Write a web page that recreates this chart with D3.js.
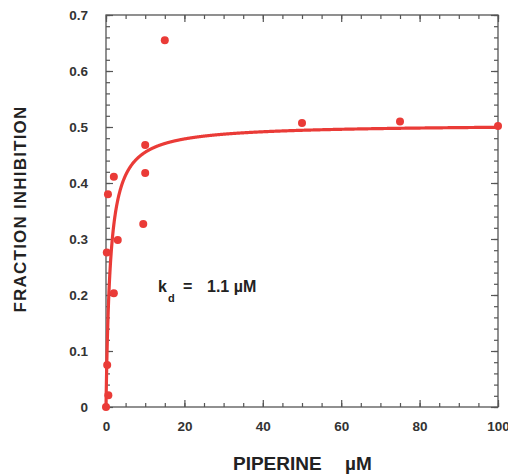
<!DOCTYPE html>
<html>
<head>
<meta charset="utf-8">
<script src="https://cdn.jsdelivr.net/npm/d3@7"></script>
<style>
  html, body { margin: 0; padding: 0; background: #fff; }
  svg { display: block; font-family: "Liberation Sans", Arial, Helvetica, sans-serif; }
</style>
</head>
<body>
<svg id="chart" width="508" height="474"></svg>
<script>
// Piperine concentration (µM) and measured fraction inhibition
const concentration = [0, 0.3, 0.6, 0.2, 0.5, 2, 3, 2, 10, 9.5, 10, 15, 50, 75, 100];
const inhibition    = [0, 0.075, 0.021, 0.276, 0.38, 0.411, 0.298, 0.203, 0.418, 0.327, 0.468, 0.655, 0.507, 0.51, 0.502];

// Saturation binding fit: f = fmax * x / (kd + x)
const kd = 1.1;
const fmax = 0.505;

const xTicks = [0, 20, 40, 60, 80, 100];
const yTicks = [0, 0.1, 0.2, 0.3, 0.4, 0.5, 0.6, 0.7];
const xMinorTicks = d3.range(0, 101, 5);
const yMinorTicks = d3.range(0, 0.701, 0.02);

const red = "#ea3b37";
const axisColor = "#555";

const svg = d3.select("#chart");
const plot = { left: 106, right: 498, top: 15, bottom: 407 };

const x = d3.scaleLinear().domain([0, 100]).range([plot.left, plot.right]);
const y = d3.scaleLinear().domain([0, 0.7]).range([plot.bottom, plot.top]);

// Frame
svg.append("rect")
  .attr("x", plot.left).attr("y", plot.top)
  .attr("width", plot.right - plot.left).attr("height", plot.bottom - plot.top)
  .attr("fill", "none").attr("stroke", axisColor).attr("stroke-width", 1.3);

// Inward ticks on all four sides
function drawTicks(g) {
  g.selectAll("path.domain").remove();
  g.selectAll("line").attr("stroke", axisColor).attr("stroke-width", 1.2);
}
const fmtY = d => d === 0 ? "0" : d3.format(".1f")(d);
const styleLabels = g => g.selectAll("text").attr("font-size", 13.5).attr("font-weight", "bold")
  .attr("fill", "#333").attr("font-family", "Liberation Sans, Arial, sans-serif");

// bottom axis
svg.append("g").attr("transform", `translate(0,${plot.bottom})`)
  .call(d3.axisBottom(x).tickValues(xMinorTicks).tickSize(-4).tickFormat(""))
  .call(drawTicks);
svg.append("g").attr("transform", `translate(0,${plot.bottom})`)
  .call(d3.axisBottom(x).tickValues(xTicks).tickSize(-7).tickPadding(14).tickFormat(d3.format("d")))
  .call(drawTicks)
  .call(styleLabels);
// top axis
svg.append("g").attr("transform", `translate(0,${plot.top})`)
  .call(d3.axisTop(x).tickValues(xMinorTicks).tickSize(-4).tickFormat(""))
  .call(drawTicks);
svg.append("g").attr("transform", `translate(0,${plot.top})`)
  .call(d3.axisTop(x).tickValues(xTicks).tickSize(-7).tickFormat(""))
  .call(drawTicks);
// left axis
svg.append("g").attr("transform", `translate(${plot.left},0)`)
  .call(d3.axisLeft(y).tickValues(yMinorTicks).tickSize(-4).tickFormat(""))
  .call(drawTicks);
svg.append("g").attr("transform", `translate(${plot.left},0)`)
  .call(d3.axisLeft(y).tickValues(yTicks).tickSize(-7).tickPadding(18).tickFormat(fmtY))
  .call(drawTicks)
  .call(styleLabels);
// right axis
svg.append("g").attr("transform", `translate(${plot.right},0)`)
  .call(d3.axisRight(y).tickValues(yMinorTicks).tickSize(-4).tickFormat(""))
  .call(drawTicks);
svg.append("g").attr("transform", `translate(${plot.right},0)`)
  .call(d3.axisRight(y).tickValues(yTicks).tickSize(-7).tickFormat(""))
  .call(drawTicks);

// Fitted curve
const curveX = d3.range(0, 100.01, 0.05);
const line = d3.line()
  .x(d => x(d))
  .y(d => y(fmax * d / (kd + d)));
svg.append("path")
  .datum(curveX)
  .attr("d", line)
  .attr("fill", "none")
  .attr("stroke", red)
  .attr("stroke-width", 3.2)
  .attr("stroke-linejoin", "round");

// Data points
svg.append("g").selectAll("circle")
  .data(concentration.map((c, i) => [c, inhibition[i]]))
  .join("circle")
  .attr("cx", d => x(d[0]))
  .attr("cy", d => y(d[1]))
  .attr("r", 4)
  .attr("fill", red);

// kd annotation
const kdText = svg.append("text")
  .attr("x", 158).attr("y", 292)
  .attr("font-size", 16).attr("font-weight", "bold").attr("fill", "#222");
kdText.append("tspan").text("k");
kdText.append("tspan").attr("font-size", 11).attr("dy", 10).attr("dx", 1).text("d");
kdText.append("tspan").attr("x", 183).attr("dy", -10).text("=");
kdText.append("tspan").attr("x", 207).text(kd + " \u00b5M");

// Axis titles
const xTitle = svg.append("text")
  .attr("y", 470)
  .attr("font-size", 19).attr("font-weight", "bold").attr("fill", "#222");
xTitle.append("tspan").attr("x", 233).text("PIPERINE");
xTitle.append("tspan").attr("x", 345).text("\u00b5M");

svg.append("text")
  .attr("transform", "translate(26,209) rotate(-90)")
  .attr("text-anchor", "middle")
  .attr("font-size", 17).attr("font-weight", "bold").attr("fill", "#222")
  .attr("letter-spacing", 1.2)
  .text("FRACTION INHIBITION");
</script>
</body>
</html>
